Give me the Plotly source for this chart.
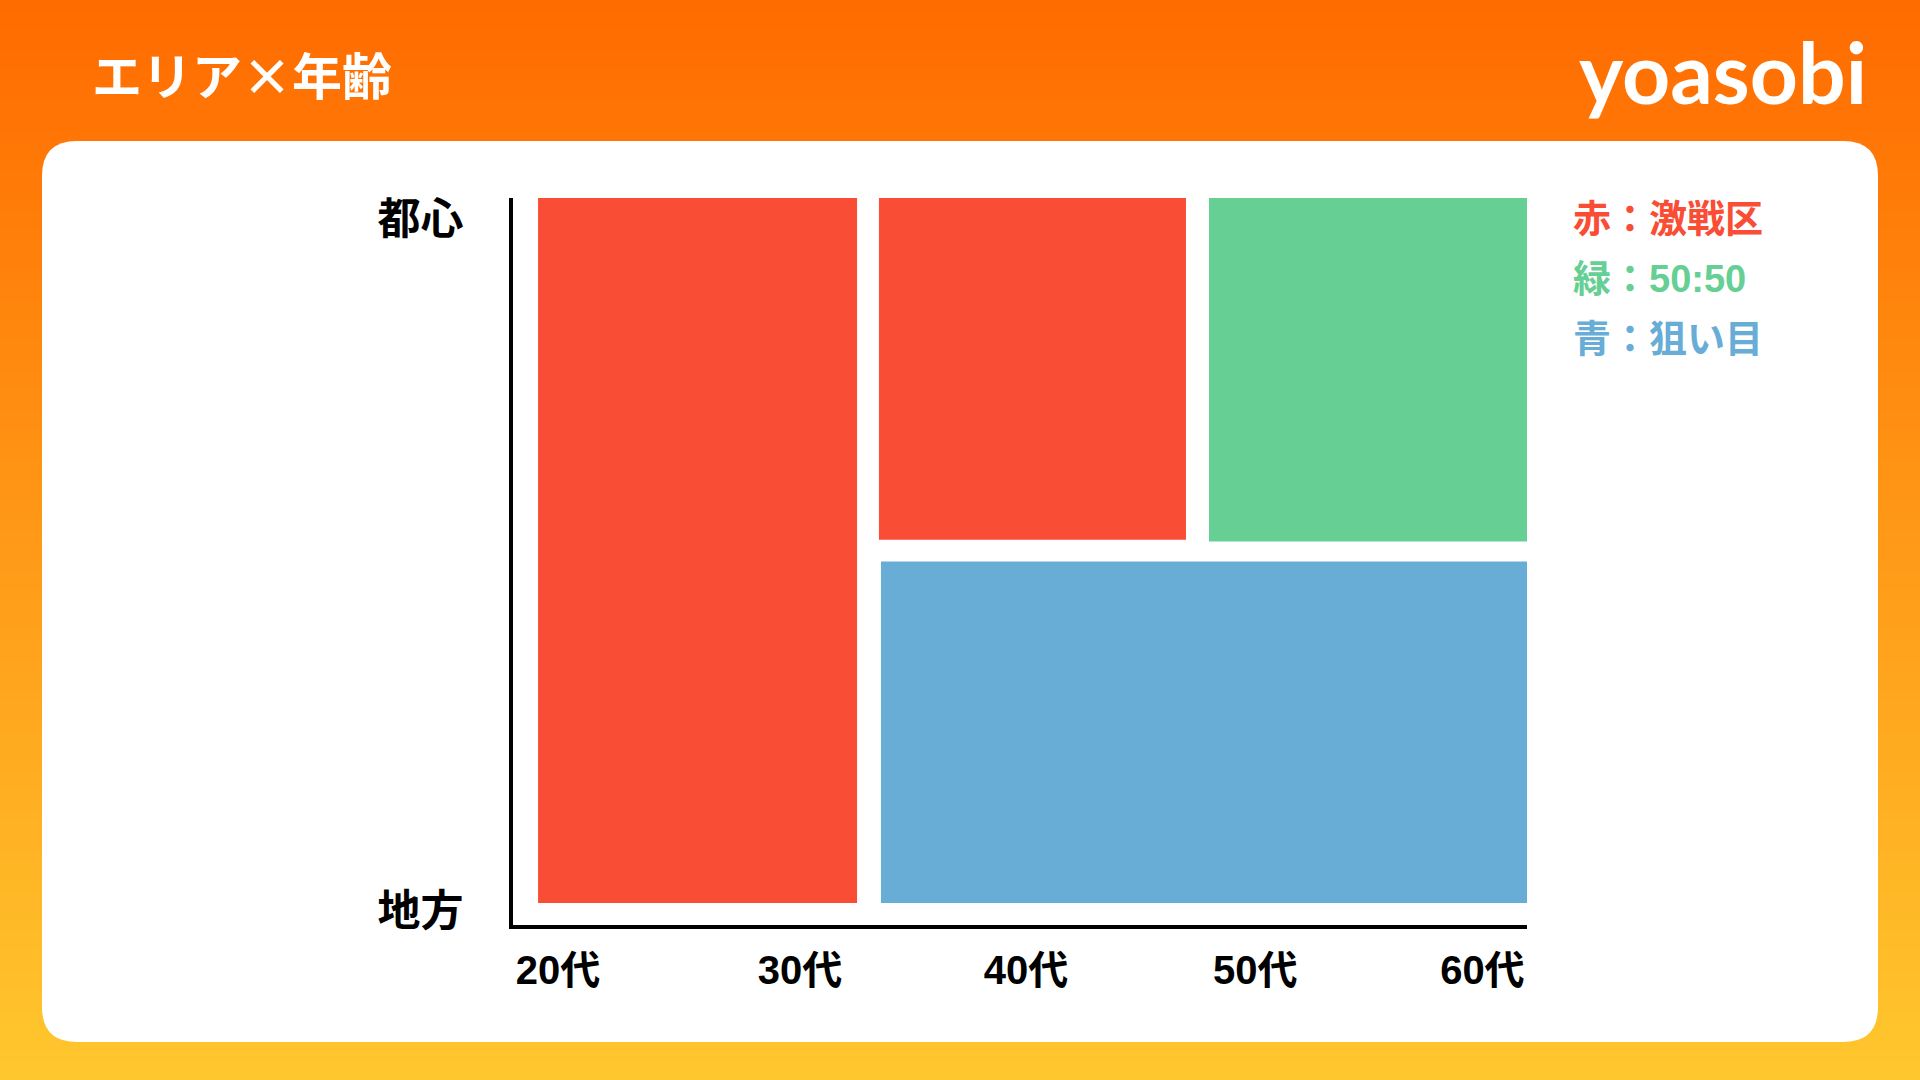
import plotly.graph_objects as go

# ---------------- data ----------------
age_labels = ["20代", "30代", "40代", "50代", "60代"]
area_labels = ["都心", "地方"]

segment_names = ["20〜30代(全域)", "40代・都心", "50〜60代・都心", "40〜60代・地方"]
segment_kind = ["赤", "赤", "緑", "青"]
seg_x_start = [2.47, 36.09, 68.64, 36.29]
seg_x_end = [33.93, 66.37, 100.0, 100.0]
seg_y_start = [3.02, 53.0, 52.75, 3.02]
seg_y_end = [100.0, 100.0, 100.0, 50.0]

legend_texts = ["赤：激戦区", "緑：50:50", "青：狙い目"]
legend_kinds = ["赤", "緑", "青"]

title_text = "エリア×年齢"
logo_text = "yoasobi"

# ---------------- style ----------------
W, H = 1920, 1080
kind_colors = {"赤": "#FA4D36", "緑": "#66CF94", "青": "#67ADD6"}
FONT = "Liberation Sans, Noto Sans CJK JP, sans-serif"
CJK = "Noto Sans CJK JP, sans-serif"

x_tick_pos = [4.44, 28.3, 50.6, 73.2, 95.6]
y_tick_pos = [97.1, 1.9]

ax_left, ax_right = 513, 1527
ax_top, ax_bottom = 198, 925

fig = go.Figure()

for name, kind, xs, xe, ys, ye in zip(segment_names, segment_kind, seg_x_start,
                                      seg_x_end, seg_y_start, seg_y_end):
    fig.add_trace(go.Bar(
        x=[(xs + xe) / 2], width=[xe - xs], base=[ys], y=[ye - ys],
        marker=dict(color=kind_colors[kind], line=dict(width=0)),
        name=name, showlegend=False, hoverinfo="skip",
    ))

# background gradient strips
shapes = []
top_c = (255, 107, 0)
bot_c = (255, 199, 46)
n = 108
for i in range(n):
    t = i / (n - 1)
    c = tuple(round(top_c[k] + (bot_c[k] - top_c[k]) * t) for k in range(3))
    shapes.append(dict(
        type="rect", xref="paper", yref="paper", layer="below",
        x0=0, x1=1, y0=1 - (i + 1) / n - 0.002, y1=1 - i / n,
        fillcolor=f"rgb{c}", line=dict(width=0),
    ))

# white rounded card
cx0, cx1, cy0, cy1, r = 42, 1878, 141, 1042, 35
def px(x):
    return x / W
def py(y):
    return 1 - y / H
path = (
    f"M {px(cx0 + r)} {py(cy0)} L {px(cx1 - r)} {py(cy0)} "
    f"Q {px(cx1)} {py(cy0)} {px(cx1)} {py(cy0 + r)} "
    f"L {px(cx1)} {py(cy1 - r)} "
    f"Q {px(cx1)} {py(cy1)} {px(cx1 - r)} {py(cy1)} "
    f"L {px(cx0 + r)} {py(cy1)} "
    f"Q {px(cx0)} {py(cy1)} {px(cx0)} {py(cy1 - r)} "
    f"L {px(cx0)} {py(cy0 + r)} "
    f"Q {px(cx0)} {py(cy0)} {px(cx0 + r)} {py(cy0)} Z"
)
shapes.append(dict(type="path", path=path, xref="paper", yref="paper",
                   layer="below", fillcolor="white", line=dict(width=0)))

annotations = [
    dict(text=title_text, x=px(90), y=py(73), xref="paper", yref="paper",
         xanchor="left", yanchor="middle", showarrow=False,
         font=dict(family=CJK, size=50, color="white", weight=700)),
    dict(text=logo_text, x=px(1723), y=py(72), xref="paper", yref="paper",
         xanchor="center", yanchor="middle", showarrow=False,
         font=dict(family="Lato, Noto Sans, sans-serif", size=84, color="white", weight=700)),
]
for i, (txt, kind) in enumerate(zip(legend_texts, legend_kinds)):
    annotations.append(dict(
        text=txt, x=px(1571), y=py(219 + 60 * i), xref="paper", yref="paper",
        xanchor="left", yanchor="middle", showarrow=False,
        font=dict(family=FONT, size=38, color=kind_colors[kind], weight=700),
    ))

fig.update_layout(
    width=W, height=H,
    margin=dict(l=0, r=0, t=0, b=0, pad=0, autoexpand=False),
    paper_bgcolor="#FFC72E",
    plot_bgcolor="rgba(0,0,0,0)",
    barmode="overlay",
    showlegend=False,
    shapes=shapes,
    annotations=annotations,
    xaxis=dict(
        domain=[ax_left / W, ax_right / W], range=[0, 100],
        showgrid=False, zeroline=False, automargin=False,
        showline=True, linecolor="black", linewidth=4,
        tickmode="array", tickvals=x_tick_pos, ticktext=age_labels,
        ticks="outside", ticklen=7, tickcolor="rgba(0,0,0,0)",
        tickfont=dict(family=FONT, size=40, color="black", weight=700),
        fixedrange=True,
    ),
    yaxis=dict(
        domain=[1 - ax_bottom / H, 1 - ax_top / H], range=[0, 100],
        showgrid=False, zeroline=False, automargin=False,
        showline=True, linecolor="black", linewidth=4,
        tickmode="array", tickvals=y_tick_pos, ticktext=area_labels,
        ticks="outside", ticklen=37, tickcolor="rgba(0,0,0,0)",
        tickfont=dict(family=FONT, size=43, color="black", weight=700),
        fixedrange=True,
    ),
    hovermode=False,
)

fig.write_html("out.html", config={"displayModeBar": False, "staticPlot": True},
               post_script="document.body.style.margin='0';")
